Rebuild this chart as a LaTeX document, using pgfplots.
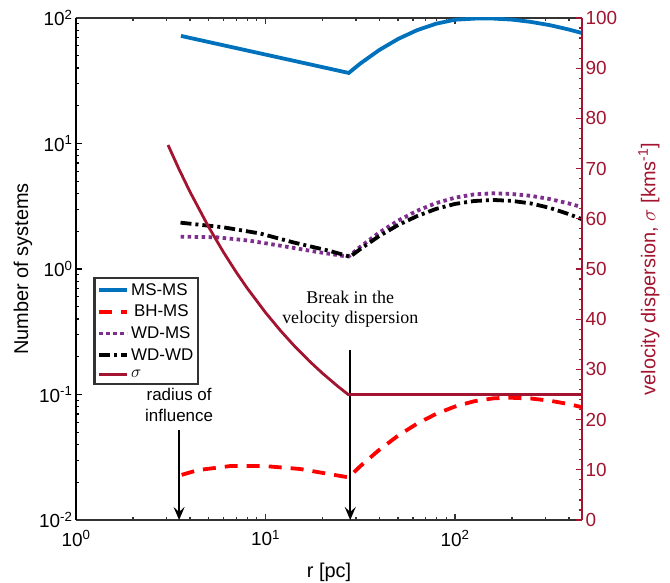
\documentclass[border=0pt]{standalone}
\usepackage{pgfplots}
\pgfplotsset{compat=1.18}
\usepackage{fontspec}
\setmainfont{Liberation Sans}
\newfontfamily\timesfont{Liberation Serif}
\usetikzlibrary{arrows.meta}

\definecolor{msblue}{rgb}{0,0.447,0.741}
\definecolor{wdpurple}{rgb}{0.494,0.184,0.556}
\definecolor{sigred}{rgb}{0.635,0.078,0.184}
\definecolor{axgray}{rgb}{0.2,0.2,0.2}

\begin{document}
\begin{tikzpicture}
\begin{axis}[
  name=ax, at={(0,0)}, anchor=south west,
  scale only axis, width=506bp, height=502bp,
  xmode=log, xmin=1, xmax=468,
  ymode=log, ymin=0.01, ymax=100,
  tick align=inside,
  major tick length=6bp, minor tick length=3.5bp,
  tick label style={font=\fontsize{19}{19}\selectfont},
  xticklabel style={yshift=-7bp},
  label style={font=\fontsize{20}{24}\selectfont},
  xlabel style={yshift=-10bp},
  axis x line*=box, axis y line*=left,
  xtick={1,10,100},
  xticklabels={10\textsuperscript{0},10\textsuperscript{1},10\textsuperscript{2}},
  minor xtick={2,3,4,5,6,7,8,9,20,30,40,50,60,70,80,90,200,300,400},
  ytick={0.01,0.1,1,10,100},
  yticklabels={10\textsuperscript{-2},10\textsuperscript{-1},10\textsuperscript{0},10\textsuperscript{1},10\textsuperscript{2}},
  minor ytick={0.02,0.03,0.04,0.05,0.06,0.07,0.08,0.09,0.2,0.3,0.4,0.5,0.6,0.7,0.8,0.9,2,3,4,5,6,7,8,9,20,30,40,50,60,70,80,90},
  x axis line style={axgray, line width=1.6bp},
  y axis line style={black, line width=2bp},
  x tick style={axgray, line width=1.2bp}, y tick style={black, line width=1.2bp},
  xlabel={r [pc]}, ylabel={Number of systems},
  legend style={at={(0.034,0.484)}, anchor=north west, draw=axgray, line width=2.4bp,
    fill=white, font=\fontsize{17}{17}\selectfont, inner sep=3bp, row sep=4.5bp,
    cells={anchor=west}},
  legend image code/.code={\draw[#1] (-2bp,0bp) -- (26bp,0bp);},
]
\addplot[msblue, line width=3.8bp] coordinates {
  (3.58,72) (27.5,36.5) (31.6,43.3) (39.8,55.5) (50.1,68.1) (63.1,80.0)
  (79.4,90.0) (100,96.9) (131.8,99.2) (158.5,99.0) (199.5,97.1) (251.2,93.1)
  (316.2,87.7) (398.1,81.0) (468,75.9)
};
\addlegendentry{MS-MS}
\addplot[red, line width=3.8bp, dash pattern=on 13bp off 9bp] coordinates {
  (3.61,0.0229) (4.41,0.0250) (6.50,0.0269) (9.93,0.0269) (15.2,0.0255)
  (26.3,0.0221) (27.5,0.0219) (31.6,0.0268) (39.8,0.0362) (50.1,0.0470)
  (63.1,0.0586) (79.4,0.0700) (100,0.0802) (125.9,0.0883) (158.5,0.0931)
  (190.5,0.0944) (251.2,0.0929) (316.2,0.0893) (398.1,0.0839) (468,0.0792)
};
\addlegendentry{\,BH-MS}
\addplot[wdpurple, line width=3.8bp, dash pattern=on 3.5bp off 3.5bp] coordinates {
  (3.57,1.81) (5.52,1.79) (8.28,1.68) (12.4,1.52) (18.6,1.37) (25.8,1.27)
  (27.5,1.26) (31.6,1.50) (39.8,1.95) (50.1,2.43) (63.1,2.91) (79.4,3.35)
  (100,3.70) (125.9,3.93) (158.5,4.01) (199.5,3.96) (251.2,3.83) (316.2,3.61)
  (398.1,3.33) (468,3.11)
};
\addlegendentry{WD-MS}
\addplot[black, line width=3.8bp, dash pattern=on 11bp off 4bp on 3bp off 4bp] coordinates {
  (3.56,2.34) (5.98,2.15) (9.35,1.92) (14.0,1.63) (21.5,1.40) (26.2,1.29)
  (27.9,1.25) (31.6,1.44) (39.8,1.83) (50.1,2.24) (63.1,2.64) (79.4,3.01)
  (100,3.30) (125.9,3.48) (158.5,3.55) (199.5,3.49) (251.2,3.33) (316.2,3.07)
  (398.1,2.74) (468,2.49)
};
\addlegendentry{WD-WD}
\addlegendimage{sigred, line width=2.8bp}
\addlegendentry{$\sigma$}

\draw[black, line width=2bp, -{Stealth[length=13bp, width=11bp, inset=5bp]}]
  (axis cs:3.5,0.052) -- (axis cs:3.5,0.01);
\draw[black, line width=2bp, -{Stealth[length=13bp, width=11bp, inset=5bp]}]
  (axis cs:28,0.226) -- (axis cs:28,0.01);
\node[anchor=south, align=center, font=\fontsize{17}{21}\selectfont, inner sep=2bp, yshift=6bp]
  at (axis cs:3.5,0.052) {radius of\\influence};
\node[anchor=south, align=center, font=\timesfont\fontsize{18}{21}\selectfont, inner sep=2bp, yshift=20bp]
  at (axis cs:28,0.226) {Break in the\\velocity dispersion};
\end{axis}

\begin{axis}[
  at={(0,0)}, anchor=south west,
  scale only axis, width=506bp, height=502bp,
  xmode=log, xmin=1, xmax=468,
  ymin=0, ymax=100,
  tick align=inside,
  major tick length=6bp, minor tick length=3.5bp,
  axis x line=none, axis y line*=right,
  ytick={0,10,...,100}, minor y tick num=4,
  yticklabel pos=right,
  /pgf/number format/assume math mode=true,
  yticklabel style={sigred, font=\fontsize{19}{19}\selectfont},
  y axis line style={sigred, line width=2bp},
  y tick style={sigred, line width=1.2bp},
  ylabel={velocity dispersion, $\sigma$ [kms\textsuperscript{-1}]},
  ylabel style={sigred, font=\fontsize{20}{24}\selectfont,
    at={(axis description cs:1.132,0.5)}, anchor=center},
]
\addplot[sigred, line width=2.8bp] coordinates {
  (3.06,74.7) (3.5,69.85) (4,65.33) (5,58.44) (6,53.35) (7,49.39) (8,46.20)
  (10,41.32) (12,37.72) (14,34.92) (17,31.69) (20,29.22) (24,26.67)
  (27.3,25.0) (468,25.0)
};
\end{axis}
\pgfresetboundingbox
\path[use as bounding box] (-76bp,-63bp) rectangle (594bp,520bp);
\end{tikzpicture}
\end{document}
